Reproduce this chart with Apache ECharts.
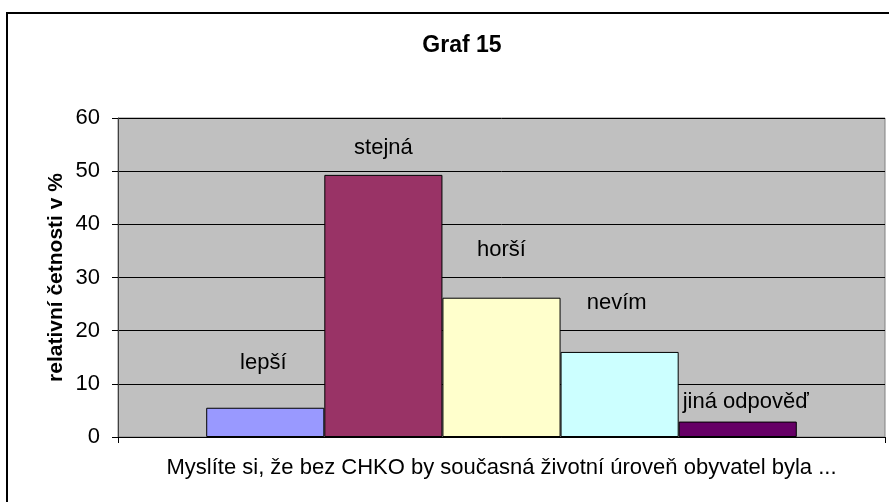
<!DOCTYPE html>
<html>
<head>
<meta charset="utf-8">
<script src="https://cdn.jsdelivr.net/npm/echarts@6/dist/echarts.min.js"></script>
<style>
html, body { margin: 0; padding: 0; background: #fff; }
#chart { width: 889px; height: 502px; }
</style>
</head>
<body>
<div id="chart"></div>
<script>
// odpovědi a relativní četnosti v %
var answers = ['lepší', 'stejná', 'horší', 'nevím', 'jiná odpověď'];
var values = [5.5, 49.3, 26.2, 16.0, 2.9];
var yTicks = [0, 10, 20, 30, 40, 50, 60];

var colors = ['#9999FF', '#993366', '#FFFFCC', '#CCFFFF', '#660066'];
// posun popisků nad sloupci (jako v původním grafu)
var labelDist = [34, 16, 37, 38, 9];
var labelShift = [-2, 0, 0, -3, 8];

var font = '"Liberation Sans", Arial, sans-serif';

var series = answers.map(function (name, i) {
    return {
        name: name,
        type: 'bar',
        barGap: '0%',
        barCategoryGap: '23%',
        data: [values[i]],
        itemStyle: { color: colors[i], borderColor: '#000', borderWidth: 1 },
        label: {
            show: true,
            position: 'top',
            distance: labelDist[i],
            offset: [labelShift[i], 0],
            formatter: '{a}',
            color: '#000',
            fontFamily: font,
            fontSize: 22
        }
    };
});

var chart = echarts.init(document.getElementById('chart'));
chart.setOption({
    animation: false,
    backgroundColor: '#fff',
    title: {
        text: 'Graf 15',
        left: 457,
        top: 29,
        textAlign: 'center',
        textStyle: { fontFamily: font, fontSize: 23, fontWeight: 'bold', color: '#000' }
    },
    graphic: [{
        type: 'rect',
        shape: { x: 7, y: 13, width: 890, height: 500 },
        style: { fill: 'none', stroke: '#000', lineWidth: 2 },
        z: 100
    }],
    grid: {
        left: 118, right: 4, top: 118, bottom: 65,
        show: true,
        backgroundColor: '#C0C0C0',
        borderColor: '#808080',
        borderWidth: 1
    },
    xAxis: {
        type: 'category',
        data: [''],
        name: 'Myslíte si, že bez CHKO by současná životní úroveň obyvatel byla ...',
        nameLocation: 'middle',
        nameGap: 20,
        nameMoveOverlap: false,
        nameTextStyle: { fontFamily: font, fontSize: 22, color: '#000' },
        axisLine: { lineStyle: { color: '#000', width: 1 } },
        axisTick: { show: true, length: 6, lineStyle: { color: '#000' } },
        axisLabel: { show: false }
    },
    yAxis: {
        type: 'value',
        min: yTicks[0],
        max: yTicks[yTicks.length - 1],
        interval: 10,
        name: 'relativní četnosti v %',
        nameLocation: 'middle',
        nameGap: 51,
        nameMoveOverlap: false,
        nameTextStyle: { fontFamily: font, fontSize: 21, fontWeight: 'bold', color: '#000' },
        axisLine: { show: true, lineStyle: { color: '#404040', width: 1 } },
        axisTick: { show: true, length: 6, lineStyle: { color: '#000' } },
        axisLabel: { margin: 18, fontFamily: font, fontSize: 22, color: '#000' },
        splitLine: { lineStyle: { color: '#000', width: 1 } }
    },
    series: series
});
</script>
</body>
</html>
